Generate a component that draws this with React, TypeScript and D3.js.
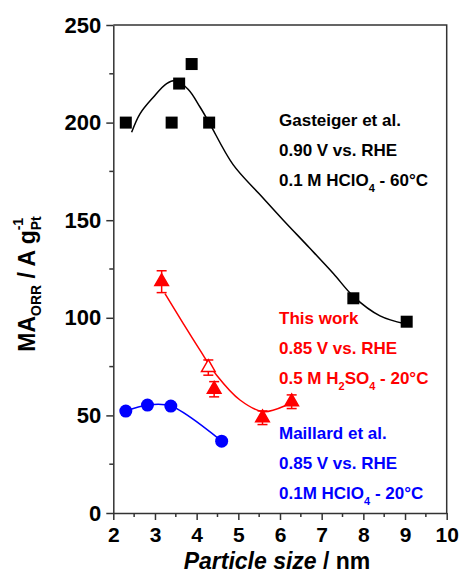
import React, { useEffect, useRef } from 'react'
import * as d3 from 'd3'

const width = 461
const height = 574
const margin = { top: 25, right: 14.3, bottom: 61, left: 113.3 }
const font = 'Arial, "Liberation Sans", sans-serif'

// Gasteiger et al. - black squares + fit line
const gasteigerSize = [2.3, 3.4, 3.58, 3.88, 4.3, 7.76, 9.04]
const gasteigerMA = [200, 200, 220, 230, 200, 110, 98]
const gasteigerFitSize = [2.44, 2.64, 2.96, 3.28, 3.5, 3.8, 4.08, 4.3, 4.87, 5.5, 6.08, 6.7, 7.28, 7.76, 8.4, 9.0]
const gasteigerFitMA = [195, 204.5, 213, 220, 221.5, 217, 208, 200, 178.6, 163.5, 150, 136, 122.7, 111, 101, 97]

// This work - red triangles with error bars, one open symbol
const thisWorkSize = [3.16, 4.28, 4.42, 5.58, 6.28]
const thisWorkMA = [118.5, 74.5, 63.4, 48.8, 57]
const thisWorkErr = [5.6, 3.9, 3.9, 3.5, 3.5]
const thisWorkOpen = [false, true, false, false, false]
const thisWorkFitSize = [3.24, 3.68, 4.08, 4.48, 5.04, 5.6, 6.16, 6.3]
const thisWorkFitMA = [112.4, 97, 83.4, 70.6, 57.9, 51.9, 55.3, 57]

// Maillard et al. - blue circles
const maillardSize = [2.3, 2.82, 3.38, 4.6]
const maillardMA = [52.2, 55.3, 54.8, 36.8]

const xTicks = [2, 3, 4, 5, 6, 7, 8, 9, 10]
const xMinor = [2.5, 3.5, 4.5, 5.5, 6.5, 7.5, 8.5, 9.5]
const yTicks = [0, 50, 100, 150, 200, 250]
const yMinor = [25, 75, 125, 175, 225]

const RED = '#ff0000'
const BLUE = '#0000ff'
const AXIS = '#333333'

export default function App() {
  const ref = useRef<SVGSVGElement>(null)

  useEffect(() => {
    const svg = d3.select(ref.current)
    svg.selectAll('*').remove()

    const x = d3.scaleLinear().domain([2, 10]).range([margin.left, width - margin.right])
    const y = d3.scaleLinear().domain([0, 250]).range([height - margin.bottom, margin.top])

    svg.append('rect').attr('width', width).attr('height', height).attr('fill', '#fff')

    // frame top + right
    svg.append('path')
      .attr('d', `M${x(2)},${y(250)}H${x(10)}V${y(0)}`)
      .attr('fill', 'none').attr('stroke', AXIS).attr('stroke-width', 1.5)

    const yAxis = svg.append('g')
      .attr('transform', `translate(${x(2)},0)`)
      .call(d3.axisLeft(y).tickValues(yTicks).tickSize(7).tickSizeOuter(0).tickPadding(5).tickFormat(d3.format('d')))
    const xAxis = svg.append('g')
      .attr('transform', `translate(0,${y(0)})`)
      .call(d3.axisBottom(x).tickValues(xTicks).tickSize(7).tickSizeOuter(0).tickPadding(7).tickFormat(d3.format('d')))

    for (const ax of [xAxis, yAxis]) {
      ax.select('.domain').attr('stroke', AXIS).attr('stroke-width', 1.5)
      ax.selectAll('.tick line').attr('stroke', AXIS).attr('stroke-width', 1.5)
      ax.selectAll('.tick text')
        .attr('fill', '#000')
        .style('font-family', font).style('font-size', '22px').style('font-weight', 'bold')
    }
    xAxis.selectAll('.tick text').style('font-size', '21px')

    // minor ticks
    svg.append('g').selectAll('line').data(yMinor).join('line')
      .attr('x1', x(2) - 4).attr('x2', x(2))
      .attr('y1', d => y(d)).attr('y2', d => y(d))
      .attr('stroke', AXIS).attr('stroke-width', 1.5)
    svg.append('g').selectAll('line').data(xMinor).join('line')
      .attr('x1', d => x(d)).attr('x2', d => x(d))
      .attr('y1', y(0)).attr('y2', y(0) + 4)
      .attr('stroke', AXIS).attr('stroke-width', 1.5)

    const line = d3.line<[number, number]>()
      .x(d => x(d[0])).y(d => y(d[1]))
      .curve(d3.curveCatmullRom)

    // fit curves
    svg.append('path')
      .attr('d', line(d3.zip(gasteigerFitSize, gasteigerFitMA) as [number, number][]))
      .attr('fill', 'none').attr('stroke', '#000').attr('stroke-width', 1.5)
    svg.append('path')
      .attr('d', line(d3.zip(thisWorkFitSize, thisWorkFitMA) as [number, number][]))
      .attr('fill', 'none').attr('stroke', RED).attr('stroke-width', 1.5)
    svg.append('path')
      .attr('d', line(d3.zip(maillardSize, maillardMA) as [number, number][]))
      .attr('fill', 'none').attr('stroke', BLUE).attr('stroke-width', 1.5)

    // black squares
    svg.append('g').selectAll('rect').data(gasteigerSize).join('rect')
      .attr('x', d => x(d) - 6).attr('y', (d, i) => y(gasteigerMA[i]) - 6)
      .attr('width', 12).attr('height', 12).attr('fill', '#000')

    // red error bars
    const eb = svg.append('g').attr('stroke', RED).attr('stroke-width', 1.5)
    thisWorkSize.forEach((s, i) => {
      const cx = x(s)
      const lo = y(thisWorkMA[i] - thisWorkErr[i])
      const hi = y(thisWorkMA[i] + thisWorkErr[i])
      eb.append('line').attr('x1', cx).attr('x2', cx).attr('y1', lo).attr('y2', hi)
      eb.append('line').attr('x1', cx - 5).attr('x2', cx + 5).attr('y1', lo).attr('y2', lo)
      eb.append('line').attr('x1', cx - 5).attr('x2', cx + 5).attr('y1', hi).attr('y2', hi)
    })

    // red triangles
    const tri = d3.symbol().type(d3.symbolTriangle).size(80)
    svg.append('g').selectAll('path').data(thisWorkSize).join('path')
      .attr('d', tri)
      .attr('transform', (d, i) => `translate(${x(d)},${y(thisWorkMA[i])})`)
      .attr('fill', (d, i) => (thisWorkOpen[i] ? '#fff' : RED))
      .attr('stroke', RED).attr('stroke-width', 1.5)

    // blue circles
    svg.append('g').selectAll('circle').data(maillardSize).join('circle')
      .attr('cx', d => x(d)).attr('cy', (d, i) => y(maillardMA[i]))
      .attr('r', 6.5).attr('fill', BLUE)

    // annotation text
    const note = (lines: [string, string?, string?, string?, string?][], x0: number, y0: number, color: string) => {
      lines.forEach((parts, k) => {
        const t = svg.append('text')
          .attr('x', x0).attr('y', y0 + k * 30)
          .attr('fill', color)
          .style('font-family', font).style('font-size', '17px').style('font-weight', 'bold')
        parts.forEach((p, j) => {
          if (p === undefined) return
          const ts = t.append('tspan').text(p)
          if (j % 2 === 1) ts.attr('dy', 6).style('font-size', '11px')
          else if (j > 0) ts.attr('dy', -6)
        })
      })
    }
    note([['Gasteiger et al.'], ['0.90 V vs. RHE'], ['0.1 M HClO', '4', ' - 60°C']], 279, 126, '#000')
    note([['This work'], ['0.85 V vs. RHE'], ['0.5 M H', '2', 'SO', '4', ' - 20°C']], 279, 323.5, RED)
    note([['Maillard et al.'], ['0.85 V vs. RHE'], ['0.1M HClO', '4', ' - 20°C']], 279, 438.5, BLUE)

    // axis titles
    const xt = svg.append('text')
      .attr('x', 277).attr('y', 569).attr('text-anchor', 'middle')
      .style('font-family', font).style('font-size', '23px').style('font-weight', 'bold')
    xt.append('tspan').style('font-style', 'italic').text('Particle size')
    xt.append('tspan').text(' / nm')

    const yt = svg.append('text')
      .attr('transform', 'translate(35,284) rotate(-90)')
      .attr('text-anchor', 'middle')
      .style('font-family', font).style('font-size', '23px').style('font-weight', 'bold')
    yt.append('tspan').text('MA')
    yt.append('tspan').attr('dy', 6).style('font-size', '14px').text('ORR')
    yt.append('tspan').attr('dy', -6).text(' / A g')
    yt.append('tspan').attr('dy', 6).style('font-size', '14px').text('Pt')
    yt.append('tspan').attr('dy', -18).attr('dx', -14).style('font-size', '14px').text('-1')
  }, [])

  return (
    <svg ref={ref} width={width} height={height}
      style={{ position: 'absolute', left: 0, top: 0, display: 'block' }} />
  )
}
